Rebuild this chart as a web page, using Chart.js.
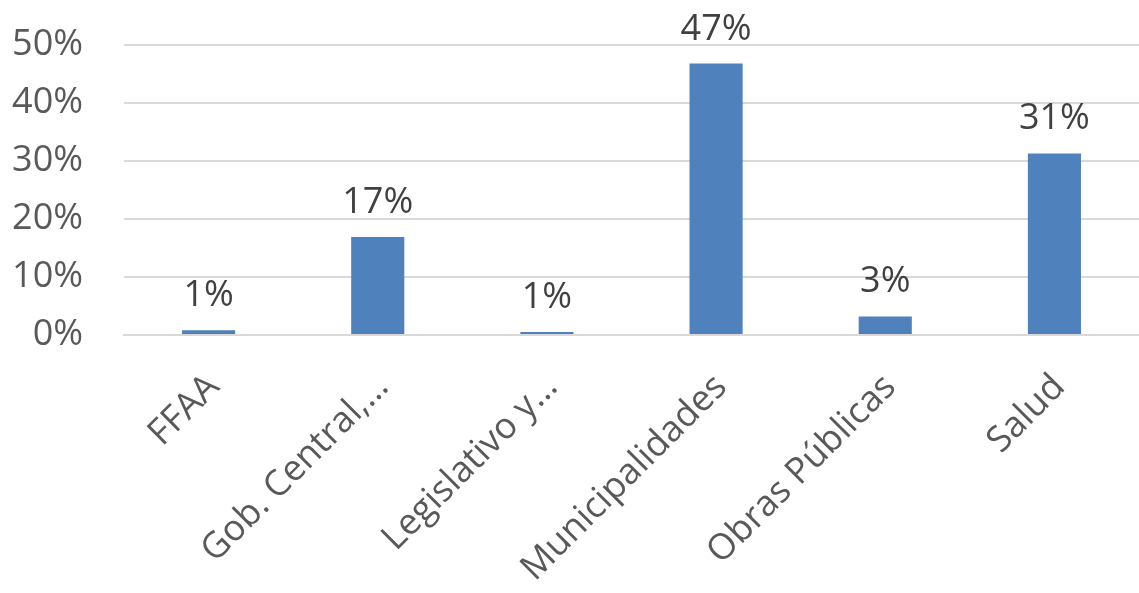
<!DOCTYPE html>
<html>
<head>
<meta charset="utf-8">
<script src="https://cdn.jsdelivr.net/npm/chart.js@4/dist/chart.umd.min.js"></script>
<style>
  html, body { margin: 0; padding: 0; background: #fff; }
  #wrap { width: 1139px; height: 593px; }
</style>
</head>
<body>
<div id="wrap"><canvas id="chart"></canvas></div>
<script>
// datos del gráfico
const categorias = ['FFAA', 'Gob. Central,…', 'Legislativo y…', 'Municipalidades', 'Obras Públicas', 'Salud'];
const porcentajes = [0.8, 16.9, 0.5, 46.8, 3.2, 31.3];
const ticksY = [0, 10, 20, 30, 40, 50];

const FUENTE = '"Open Sans", "DejaVu Sans", sans-serif';

// etiquetas encima de cada barra
const etiquetasBarras = {
  id: 'etiquetasBarras',
  afterDatasetsDraw(chart) {
    const ctx = chart.ctx;
    const meta = chart.getDatasetMeta(0);
    ctx.save();
    ctx.font = '36px ' + FUENTE;
    ctx.fillStyle = '#404040';
    ctx.textAlign = 'center';
    ctx.textBaseline = 'alphabetic';
    meta.data.forEach((bar, i) => {
      ctx.fillText(Math.round(porcentajes[i]) + '%', bar.x, bar.y - 24);
    });
    ctx.restore();
  }
};

new Chart(document.getElementById('chart'), {
  type: 'bar',
  data: {
    labels: categorias,
    datasets: [{
      data: porcentajes,
      backgroundColor: '#4f81bd',
      categoryPercentage: 1,
      barPercentage: 0.314
    }]
  },
  options: {
    responsive: true,
    maintainAspectRatio: false,
    animation: false,
    layout: { padding: { top: 45, right: 0, left: 0, bottom: 0 } },
    plugins: {
      legend: { display: false },
      tooltip: { enabled: false }
    },
    scales: {
      x: {
        grid: { display: false, drawTicks: false },
        border: { display: true, color: '#d9d9d9', width: 2 },
        ticks: {
          color: '#595959',
          font: { family: FUENTE, size: 36 },
          minRotation: 45,
          maxRotation: 45,
          autoSkip: false,
          padding: 31,
          labelOffset: 5
        },
        afterFit(scale) { scale.height = 258; }
      },
      y: {
        min: 0,
        max: 50,
        afterBuildTicks(scale) { scale.ticks = ticksY.map(v => ({ value: v })); },
        grid: { color: '#d9d9d9', lineWidth: 2, drawTicks: false },
        border: { display: false },
        ticks: {
          color: '#595959',
          font: { family: FUENTE, size: 36 },
          padding: 41,
          callback: v => v + '%'
        },
        afterFit(scale) {
          scale.width = 124;
          scale.paddingTop = 20;
          scale.paddingBottom = 20;
        }
      }
    }
  },
  plugins: [etiquetasBarras]
});
</script>
</body>
</html>
